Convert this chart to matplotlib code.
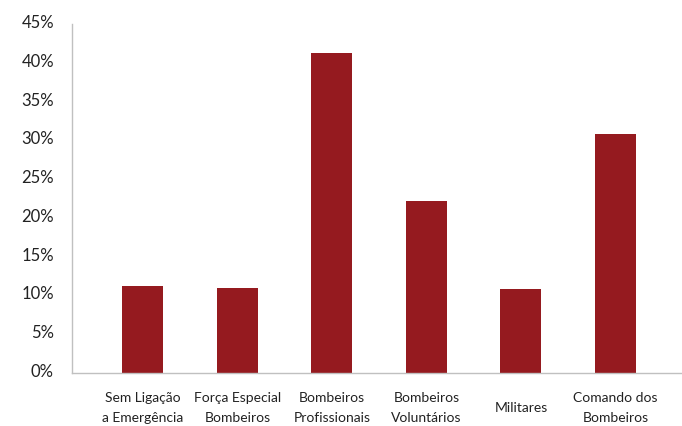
import matplotlib
matplotlib.use("Agg")
import matplotlib.pyplot as plt
import matplotlib.transforms as mtransforms
from matplotlib.ticker import FuncFormatter, FixedLocator

categories = ["Sem Ligação\na Emergência", "Força Especial\nBombeiros", "Bombeiros\nProfissionais",
              "Bombeiros\nVoluntários", "Militares", "Comando dos\nBombeiros"]
values = [11.2, 10.9, 41.2, 22.2, 10.8, 30.8]
yticks = [0, 5, 10, 15, 20, 25, 30, 35, 40, 45]

plt.rcParams['font.family'] = ['Lato', 'DejaVu Sans']

fig = plt.figure(figsize=(6.82, 4.27), dpi=100)
ax = fig.add_axes([72/682, 53/427, 610/682, 349/427])

x = list(range(len(categories)))
ax.bar(x, values, width=0.434, color="#951a1f")

ax.set_xlim(-0.751, 5.704)
ax.set_ylim(0, 45)
ax.yaxis.set_major_locator(FixedLocator(yticks))
ax.yaxis.set_major_formatter(FuncFormatter(lambda v, p: f"{int(round(v))}%"))

for s in ["top", "right"]:
    ax.spines[s].set_visible(False)
for s in ["left", "bottom"]:
    ax.spines[s].set_color("#c0c0c0")
    ax.spines[s].set_linewidth(1.0)

ax.set_xticks(x)
ax.set_xticklabels(categories, fontsize=10, linespacing=1.8, color="#222222")
for lab in ax.get_xticklabels():
    lab.set_verticalalignment("center")
ax.tick_params(axis="x", length=0, pad=24.5)
ax.tick_params(axis="y", length=0, pad=13, labelsize=12, labelcolor="#222222")

offset = mtransforms.ScaledTranslation(0, 3.5/100, fig.dpi_scale_trans)
for t in ax.yaxis.get_major_ticks():
    t.label1.set_transform(t.label1.get_transform() + offset)

fig.savefig("out.png", dpi=100)
